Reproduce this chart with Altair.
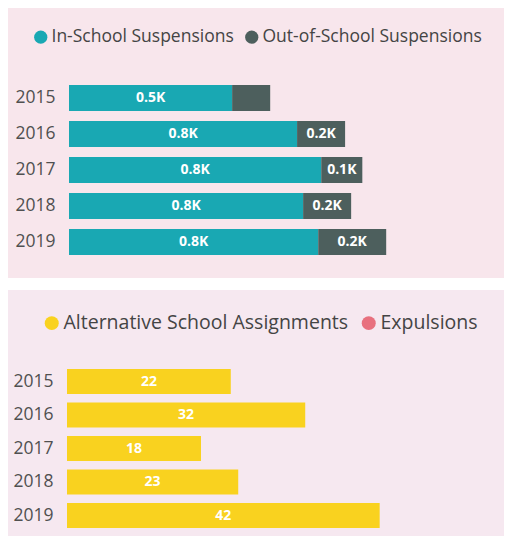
import altair as alt
import pandas as pd

years = ["2015", "2016", "2017", "2018", "2019"]
in_school = [540, 755, 835, 775, 825]
out_school = [126, 159, 136, 159, 225]
in_labels = ["0.5K", "0.8K", "0.8K", "0.8K", "0.8K"]
out_labels = ["", "0.2K", "0.1K", "0.2K", "0.2K"]

alt_school = [22, 32, 18, 23, 42]
expulsions = [0, 0, 0, 0, 0]

FONT = "Open Sans"

rows1 = []
for i, y in enumerate(years):
    rows1.append({"year": y, "cat": "In-School Suspensions", "v": in_school[i], "lab": in_labels[i]})
    rows1.append({"year": y, "cat": "Out-of-School Suspensions", "v": out_school[i], "lab": out_labels[i]})
df1 = pd.DataFrame(rows1)

rows2 = []
for i, y in enumerate(years):
    rows2.append({"year": y, "cat": "Alternative School Assignments", "v": alt_school[i], "lab": str(alt_school[i])})
    rows2.append({"year": y, "cat": "Expulsions", "v": expulsions[i], "lab": str(expulsions[i])})
df2 = pd.DataFrame(rows2)

W = 496


def panel(df, cats, colors, xdom, xrange, yrange, pad_inner, legend_x, legend_y, H, fill,
          col_pad, legend_fs, sym_size, label_pad):
    base = alt.Chart(df).transform_stack(
        stack="v", groupby=["year"], as_=["x0", "x1"], sort=[alt.SortField("cat", order="ascending")]
    ).transform_calculate(mid="(datum.x0 + datum.x1) / 2")
    yenc = alt.Y(
        "year:N",
        sort=years,
        scale=alt.Scale(range=yrange, paddingInner=pad_inner, paddingOuter=0),
        axis=alt.Axis(
            title=None, domain=False, ticks=False, tickSize=0, labelPadding=label_pad,
            labelFont=FONT, labelFontSize=17.5, labelColor="#505050",
        ),
    )
    bars = base.mark_bar(stroke=None).encode(
        x=alt.X("x0:Q", scale=alt.Scale(domain=xdom, range=xrange, nice=False, zero=True), axis=None),
        x2="x1:Q",
        y=yenc,
        color=alt.Color(
            "cat:N",
            scale=alt.Scale(domain=cats, range=colors),
            legend=alt.Legend(
                title=None, orient="none", legendX=legend_x, legendY=legend_y, direction="horizontal",
                symbolType="circle", symbolSize=sym_size, symbolStrokeWidth=0,
                labelFont=FONT, labelFontSize=legend_fs, labelColor="#444444", labelLimit=400,
                columnPadding=col_pad, symbolOffset=0, labelOffset=2,
            ),
        ),
    )
    texts = base.transform_filter("datum.v > 0 && datum.lab != ''").mark_text(
        color="white", font=FONT, fontSize=14, fontWeight="bold", baseline="middle", align="center"
    ).encode(
        x=alt.X("mid:Q", scale=alt.Scale(domain=xdom, range=xrange, nice=False, zero=True), axis=None),
        y=yenc,
        text="lab:N",
    )
    return alt.layer(bars, texts).properties(width=W, height=H, view=alt.ViewBackground(fill=fill, stroke=None))


top = panel(
    df1,
    ["In-School Suspensions", "Out-of-School Suspensions"],
    ["#19a8b3", "#4d5f5d"],
    [0, 1440], [61, 496], [77, 247], 10 / 36, 24, 20, 270, "#f8e6ec", 9, 17.5, 175, -47,
)
bottom = panel(
    df2,
    ["Alternative School Assignments", "Expulsions"],
    ["#f9d21f", "#e8707e"],
    [0, 58.7], [59, 496], [79, 238], 8.5 / 33.5, 34, 23, 246, "#f6e8f0", 10, 19.5, 195, -45,
)

chart = alt.vconcat(top, bottom, spacing=12).resolve_scale(
    color="independent", x="independent", y="independent"
).resolve_legend(color="independent").properties(
    padding=0, background="white"
).configure_view(stroke=None)

chart.save("out.html", embed_options={"renderer": "svg", "actions": False})
